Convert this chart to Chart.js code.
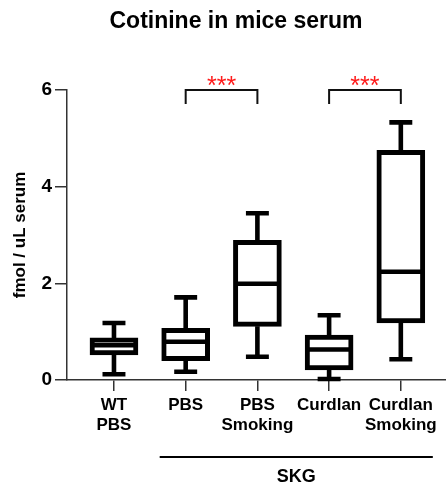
<!DOCTYPE html>
<html>
<head>
<meta charset="utf-8">
<script src="https://cdn.jsdelivr.net/npm/chart.js@4"></script>
<style>
  html, body { margin: 0; padding: 0; background: #fff; }
  #wrap { width: 446px; height: 494px; }
</style>
</head>
<body>
<div id="wrap"><canvas id="boxChart" width="446" height="494"></canvas></div>
<script>
// groups on the x axis
const categories = [["WT", "PBS"], "PBS", ["PBS", "Smoking"], "Curdlan", ["Curdlan", "Smoking"]];
// box plot values (fmol / uL serum)
const whiskerMin = [0.12, 0.17, 0.48, 0.02, 0.43];
const q1 = [0.52, 0.40, 1.11, 0.21, 1.18];
const median = [0.72, 0.79, 1.99, 0.63, 2.24];
const q3 = [0.87, 1.07, 2.89, 0.93, 4.75];
const whiskerMax = [1.18, 1.71, 3.45, 1.34, 5.33];
const yTicks = [0, 2, 4, 6];
// significance brackets
const sigPairs = [[1, 2], [3, 4]];
const sigLabels = ["***", "***"];
const bracketTop = 6.0;
const bracketLeg = 5.71;
const groupLabel = "SKG";
const groupMembers = [1, 2, 3, 4];

const FONT = "'Liberation Sans', Arial, sans-serif";

// whisker + median segments, split by gaps
const capHalf = 0.16;
const medHalf = 0.3;
const whiskerPts = [];
categories.forEach((c, i) => {
  whiskerPts.push({ x: i, y: q3[i] }, { x: i, y: whiskerMax[i] }, { x: i, y: null });
  whiskerPts.push({ x: i - capHalf, y: whiskerMax[i] }, { x: i + capHalf, y: whiskerMax[i] }, { x: i, y: null });
  whiskerPts.push({ x: i, y: q1[i] }, { x: i, y: whiskerMin[i] }, { x: i, y: null });
  whiskerPts.push({ x: i - capHalf, y: whiskerMin[i] }, { x: i + capHalf, y: whiskerMin[i] }, { x: i, y: null });
  whiskerPts.push({ x: i - medHalf, y: median[i] }, { x: i + medHalf, y: median[i] }, { x: i, y: null });
});

const bracketPts = [];
sigPairs.forEach(([a, b]) => {
  bracketPts.push({ x: a, y: bracketLeg }, { x: a, y: bracketTop }, { x: b, y: bracketTop }, { x: b, y: bracketLeg }, { x: a, y: null });
});

const extras = {
  id: "extras",
  afterDraw(chart) {
    const { ctx, scales } = chart;
    const x = scales.x, y = scales.y;
    ctx.save();
    // title
    ctx.fillStyle = "#000";
    ctx.font = "bold 23px " + FONT;
    ctx.textAlign = "center";
    ctx.textBaseline = "alphabetic";
    ctx.fillText("Cotinine in mice serum", 236, 28);
    // stars
    ctx.fillStyle = "#ff1a1a";
    ctx.font = "25px " + FONT;
    ctx.textBaseline = "middle";
    sigPairs.forEach(([a, b], k) => {
      const cx = (x.getPixelForValue(a) + x.getPixelForValue(b)) / 2;
      ctx.fillText(sigLabels[k], cx, y.getPixelForValue(bracketTop) - 3);
    });
    // group line + label
    const x0 = x.getPixelForValue(groupMembers[0]) - 26;
    const x1 = x.getPixelForValue(groupMembers[groupMembers.length - 1]) + 32;
    ctx.strokeStyle = "#000";
    ctx.lineWidth = 2;
    ctx.beginPath();
    ctx.moveTo(x0, 457);
    ctx.lineTo(x1, 457);
    ctx.stroke();
    ctx.fillStyle = "#000";
    ctx.font = "bold 18px " + FONT;
    ctx.textBaseline = "alphabetic";
    ctx.fillText(groupLabel, (x0 + x1) / 2, 482);
    ctx.restore();
  }
};

new Chart(document.getElementById("boxChart"), {
  type: "bar",
  data: {
    datasets: [
      {
        type: "bar",
        label: "box",
        data: categories.map((c, i) => ({ x: i, y: [q1[i], q3[i]] })),
        backgroundColor: "#fff",
        borderColor: "#000",
        borderWidth: 5,
        borderSkipped: false,
        barThickness: 48,
        grouped: false,
        order: 2
      },
      {
        type: "line",
        label: "whiskers",
        data: whiskerPts,
        borderColor: "#000",
        borderWidth: 4.6,
        pointRadius: 0,
        spanGaps: false,
        clip: false,
        order: 1
      },
      {
        type: "line",
        label: "brackets",
        data: bracketPts,
        borderColor: "#111",
        borderWidth: 2,
        pointRadius: 0,
        spanGaps: false,
        clip: false,
        order: 0
      }
    ]
  },
  options: {
    responsive: false,
    animation: false,
    events: [],
    layout: { padding: { top: 90, left: 0, right: 0, bottom: 0 } },
    plugins: { legend: { display: false }, tooltip: { enabled: false }, title: { display: false } },
    scales: {
      x: {
        type: "linear",
        offset: false,
        min: -0.655,
        max: 4.63,
        afterBuildTicks: (s) => { s.ticks = categories.map((c, i) => ({ value: i })); },
        afterFit: (s) => { s.height = 114; },
        ticks: {
          callback: (v) => categories[v],
          color: "#000",
          font: { family: FONT, size: 17, weight: "bold", lineHeight: 1.2 },
          padding: 4,
          maxRotation: 0,
          autoSkip: false
        },
        grid: { offset: false, drawOnChartArea: false, drawTicks: true, tickLength: 11, color: "#333", lineWidth: 1.5 },
        border: { color: "#333", width: 1.5 }
      },
      y: {
        min: 0,
        max: 6,
        afterBuildTicks: (s) => { s.ticks = yTicks.map((v) => ({ value: v })); },
        afterFit: (s) => { s.width = 67; },
        ticks: {
          color: "#000",
          font: { family: FONT, size: 19, weight: "bold" },
          padding: 3
        },
        title: {
          display: true,
          text: "fmol / uL serum",
          color: "#000",
          font: { family: FONT, size: 17, weight: "bold" },
          padding: { top: 10, bottom: 0 }
        },
        grid: { drawOnChartArea: false, drawTicks: true, tickLength: 12, color: "#333", lineWidth: 1.5 },
        border: { color: "#333", width: 1.5 }
      }
    }
  },
  plugins: [extras]
});
</script>
</body>
</html>
